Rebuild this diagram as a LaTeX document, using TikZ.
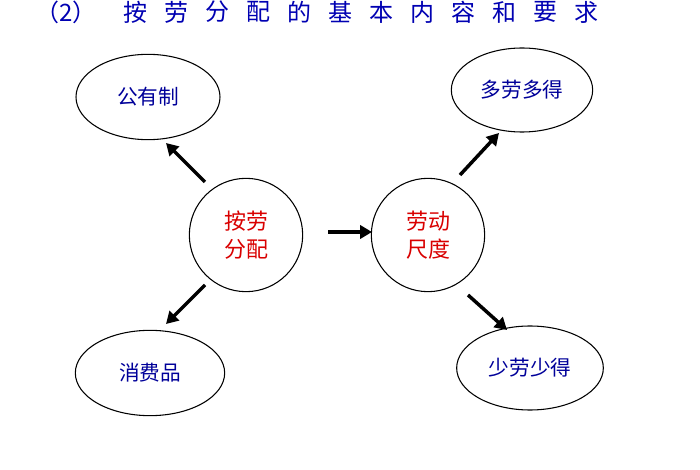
\documentclass[tikz,border=0pt]{standalone}
\usepackage{fontspec}
\setmainfont{Noto Sans CJK SC}
\usetikzlibrary{arrows.meta,shapes.geometric}
\begin{document}
\begin{tikzpicture}[x=0.75pt,y=-0.75pt,
  ell/.style={draw,ellipse,line width=0.8pt,inner sep=0pt,font=\fontsize{15.5}{18}\selectfont,text=blue!60!black},
  circ/.style={draw,circle,line width=0.8pt,minimum size=85pt,font=\fontsize{16.5}{21}\selectfont,text=red!85!black,align=center},
  ttl/.style={font=\fontsize{18}{20}\selectfont,text=blue!70!black},
  arr/.style={-{Triangle[length=9pt,width=10pt]},line width=2.6pt}]
\useasboundingbox (0,0) rectangle (700,470);
\node[ttl] (t0) at (66,12) {（2）};
\foreach \c [count=\i] in {按,劳,分,配,的,基,本,内,容,和,要,求}
  \node[ttl] (t\i) at (94+41*\i,12) {\c};
\node[circ] (a) at (246,235) {按劳\\分配};
\node[circ] (b) at (428,235) {劳动\\尺度};
\node[ell,minimum width=108pt,minimum height=64pt] (g) at (148,97) {公有制};
\node[ell,minimum width=106pt,minimum height=63pt] (d) at (522,90) {多劳多得};
\node[ell,minimum width=112pt,minimum height=64pt] (x) at (150,373) {消费品};
\node[ell,minimum width=110pt,minimum height=63pt] (s) at (530,368) {少劳少得};
\coordinate (a1) at (205,182); \coordinate (g1) at (166,143);
\coordinate (a2) at (328,232); \coordinate (b2) at (372,232);
\coordinate (b3) at (460,175); \coordinate (d3) at (499,133);
\coordinate (a4) at (205,285); \coordinate (x4) at (166,324);
\coordinate (b5) at (468,295); \coordinate (s5) at (507,330);
\foreach \p/\q in {a1/g1,a2/b2,b3/d3,a4/x4,b5/s5}
  \draw[arr] (\p) -- (\q);
\end{tikzpicture}
\end{document}
